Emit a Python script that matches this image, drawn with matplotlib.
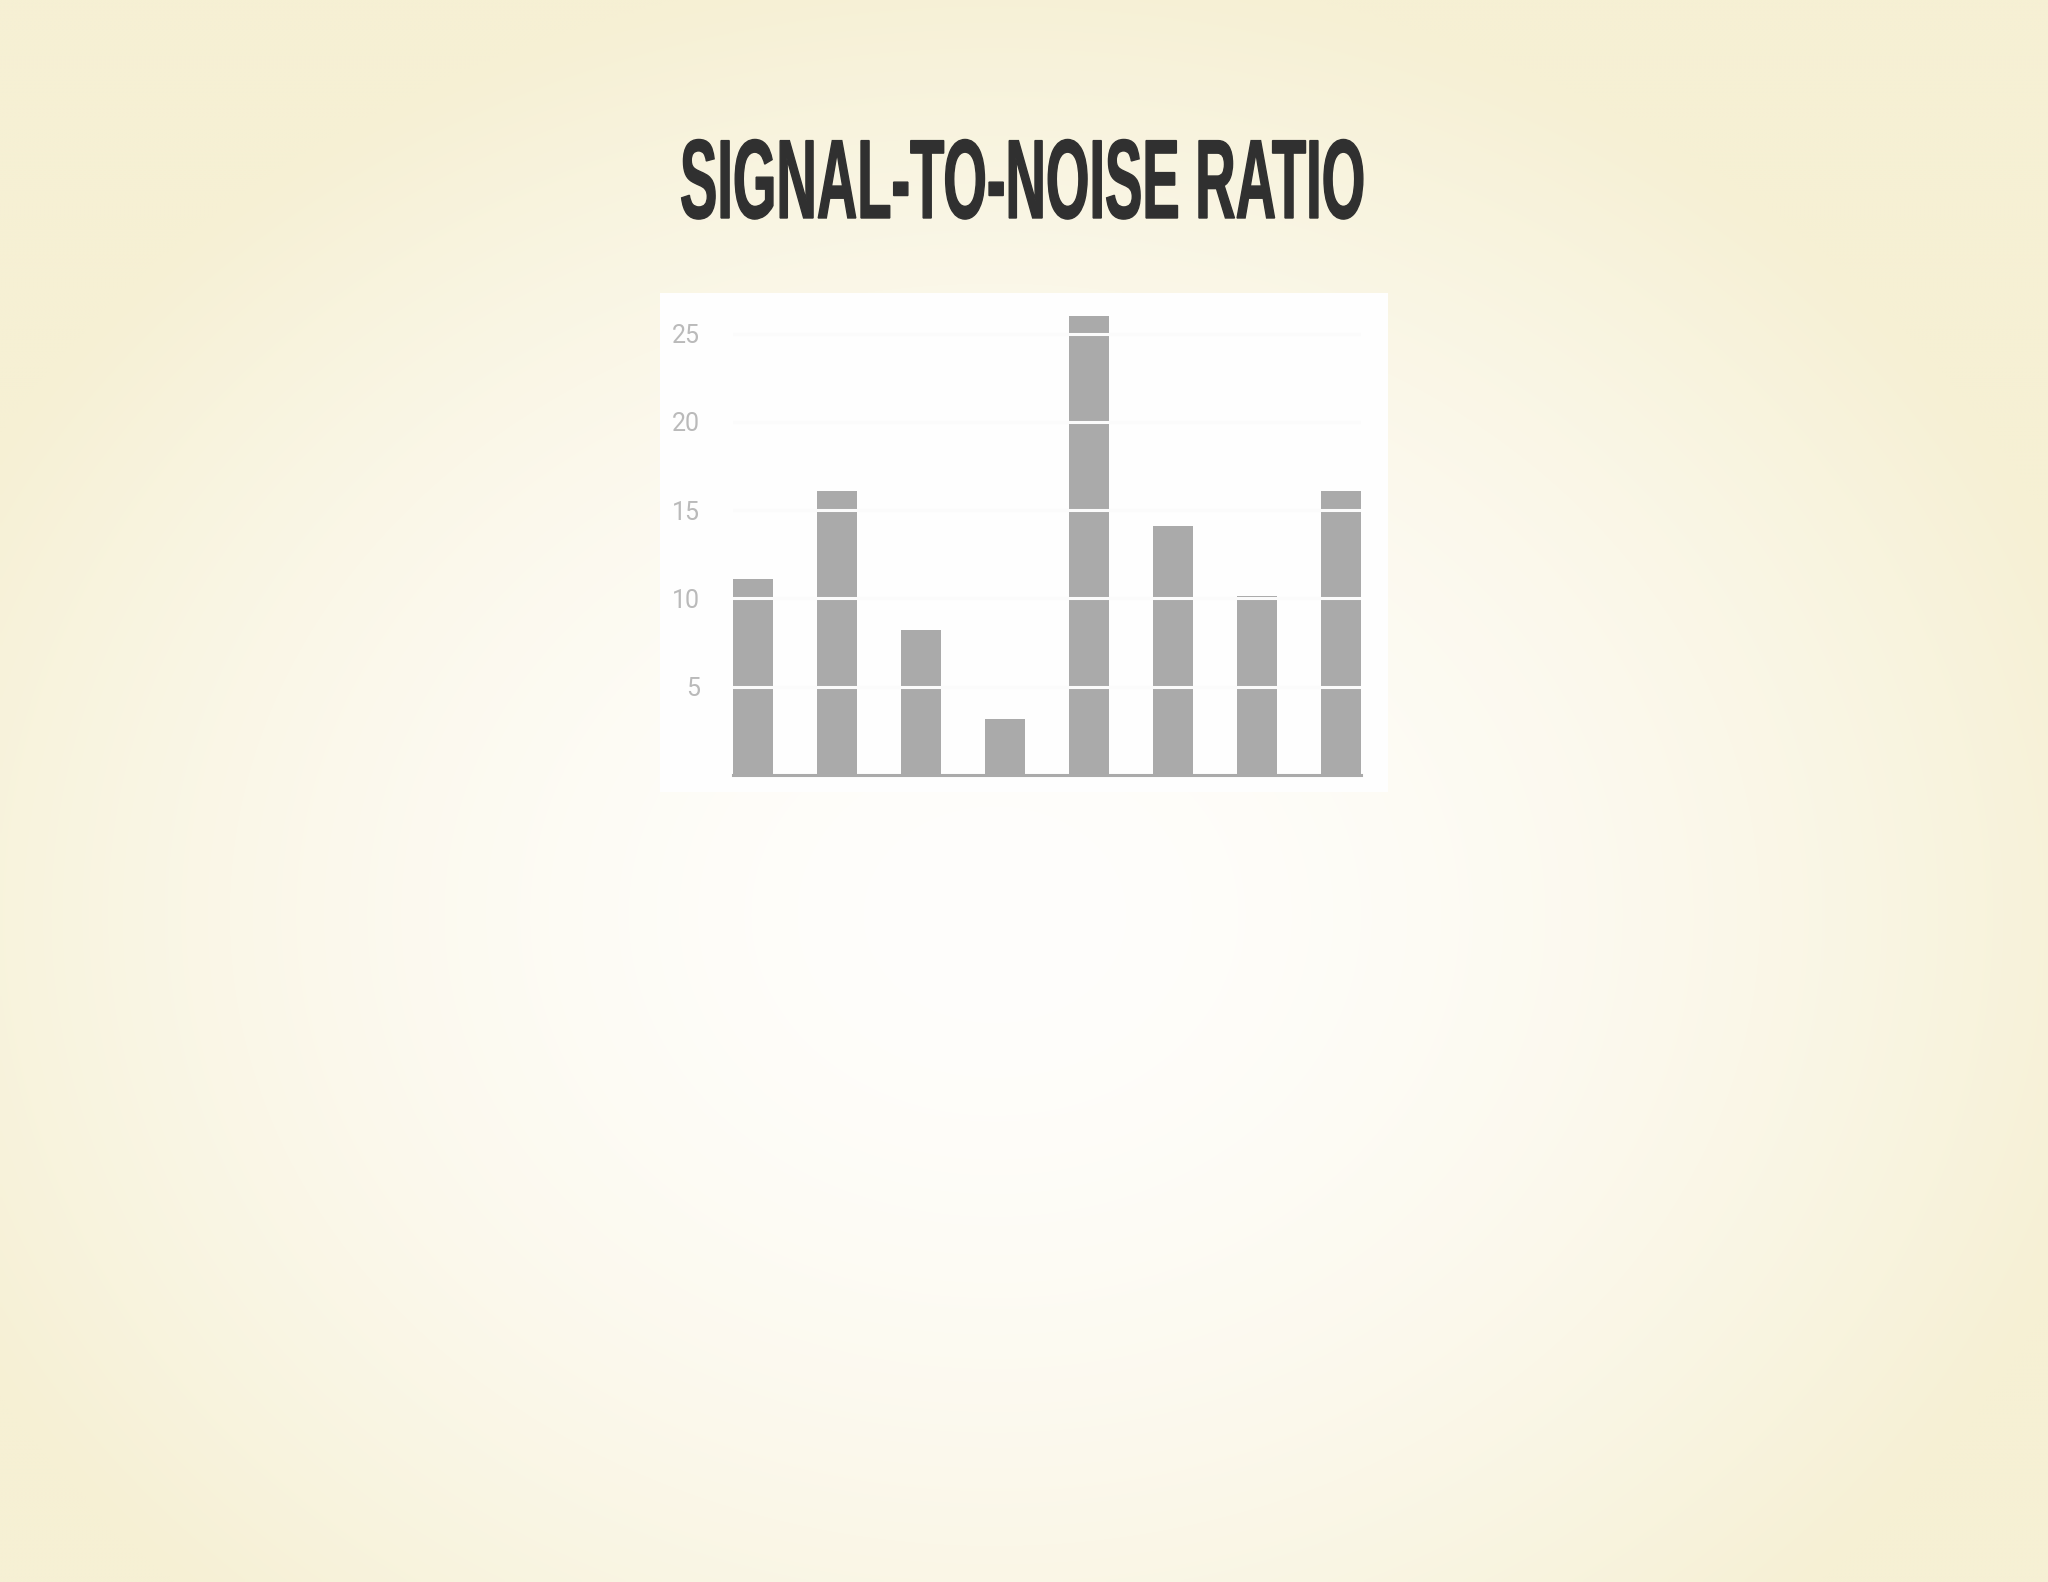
"""
Signal-to-noise ratio bar chart on a cream radial-gradient page.
Writes out.png (2048x1582).
"""

import matplotlib
matplotlib.use("Agg")  # headless backend
import matplotlib.pyplot as plt
import numpy as np
from matplotlib import font_manager, patheffects
from matplotlib.patches import Rectangle
from matplotlib.transforms import Affine2D

# Values.
SAMPLES = ["1", "2", "3", "4", "5", "6", "7", "8"]
SNR = [11.1, 16.1, 8.2, 3.2, 26.0, 14.1, 10.15, 16.1]
Y_TICKS = [5, 10, 15, 20, 25]
TITLE = "SIGNAL-TO-NOISE RATIO"

W, H, DPI = 2048, 1582, 100
BAR_COLOR = "#aaaaaa"
TITLE_COLOR = "#303030"


def _pick_font(*names):
    for name in names:
        try:
            font_manager.findfont(font_manager.FontProperties(family=name),
                                  fallback_to_default=False)
            return name
        except ValueError:
            continue
    return "DejaVu Sans"


class Squeeze(patheffects.AbstractPathEffect):
    """Narrow the glyphs around cx and fatten them a bit (fake condensed gothic)."""

    def __init__(self, sx, cx, stroke=0.0):
        super().__init__()
        self.sx, self.cx, self.stroke = sx, cx, stroke

    def draw_path(self, renderer, gc, tpath, affine, rgbFace=None):
        squeeze = Affine2D().translate(-self.cx, 0).scale(self.sx, 1).translate(self.cx, 0)
        gc0 = renderer.new_gc()
        gc0.copy_properties(gc)
        if self.stroke and rgbFace is not None:
            gc0.set_linewidth(self.stroke)
            gc0.set_foreground(rgbFace)
            gc0.set_joinstyle("miter")
        renderer.draw_path(gc0, tpath, affine + squeeze, rgbFace)
        gc0.restore()


fig = plt.figure(figsize=(W / DPI, H / DPI), dpi=DPI)

# page background: soft radial gradient, whitish in the middle, cream at edges
bg = fig.add_axes([0, 0, 1, 1], zorder=-2)
bg.axis("off")
gy, gx = np.mgrid[0:H:4, 0:W:4]
r = np.sqrt(((gx - 993) / 1150.0) ** 2 + ((gy - 914) / 950.0) ** 2)
t = np.clip(r, 0, 1)[..., None] ** 1.7
inner = np.array([255, 254, 252]) / 255.0
outer = np.array([246, 240, 212]) / 255.0
bg.imshow(inner * (1 - t) + outer * t, extent=[0, 1, 0, 1], aspect="auto",
          interpolation="bilinear")
bg.set_xlim(0, 1)
bg.set_ylim(0, 1)

# white card behind the chart
fig.add_artist(Rectangle((660 / W, 1 - 792 / H), 728 / W, 499 / H,
                         transform=fig.transFigure, facecolor="#fefefe",
                         edgecolor="none", zorder=-1))

# chart axes
ax = fig.add_axes([733 / W, 1 - 775 / H, 628 / W, (775 - 298.3) / H], zorder=0)
ax.set_facecolor("none")
x = np.arange(len(SAMPLES))
ax.bar(x, SNR, width=0.476, color=BAR_COLOR, zorder=1)
ax.axhline(0, color=BAR_COLOR, linewidth=2.2, clip_on=False, zorder=1)
ax.set_xlim(-0.24, len(SAMPLES) - 1 + 0.24)
ax.set_ylim(0, 27)
ax.set_xticks([])
ax.set_yticks(Y_TICKS)
# grid is near-white: it only shows where it crosses the bars
ax.yaxis.grid(True, color="#fbfbfb", linewidth=2.2)
ax.set_axisbelow(False)
for side in ax.spines.values():
    side.set_visible(False)

tick_font = _pick_font("Roboto", "Lato", "DejaVu Sans")
ax.tick_params(axis="y", length=0, pad=24, labelsize=18, labelcolor="#bababa")
for lbl in ax.get_yticklabels():
    lbl.set_family(tick_font)

# title: tall and condensed
title_font = _pick_font("Liberation Sans Narrow", "Liberation Sans", "DejaVu Sans")
cx = 1022.5
title = fig.text(cx / W, 1 - 218 / H, TITLE, ha="center", va="baseline",
                 family=title_font, fontweight="bold", fontsize=81,
                 color=TITLE_COLOR, zorder=3)
fig.canvas.draw()
width = title.get_window_extent(fig.canvas.get_renderer()).width
title.set_path_effects([Squeeze(685.0 / width, cx, stroke=1.0)])

fig.savefig("out.png", dpi=DPI)
plt.close(fig)
